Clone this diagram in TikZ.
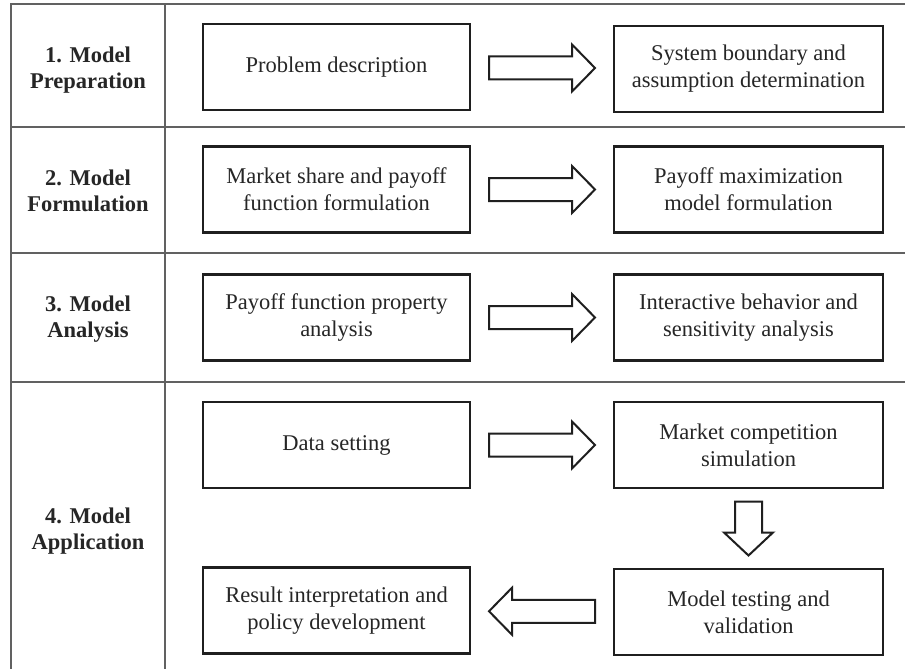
\documentclass[tikz,border=0pt]{standalone}
\usepackage{fontspec}
\setmainfont{Liberation Serif}
\usetikzlibrary{calc}
\begin{document}
\begin{tikzpicture}[x=1pt,y=-1pt,
  grid/.style={line width=1.3pt, draw=black!62},
  box/.style={draw=black!88, line width=2.6pt, minimum width=267pt, minimum height=86pt, align=center, inner sep=0pt, font=\fontsize{22.5}{27}\selectfont, text=black!85},
  rbox/.style={box, minimum width=269pt},
  lbl/.style={align=center, font=\bfseries\fontsize{22.5}{26}\selectfont, text=black!85},
  arrowline/.style={draw=black!88, line width=2pt, fill=white, line join=miter},
  harrow/.pic={\path[arrowline] (-53,-11.5) -- (30,-11.5) -- (30,-23.5) -- (53,0) -- (30,23.5) -- (30,11.5) -- (-53,11.5) -- cycle;},
  varrow/.pic={\path[arrowline] (-27,-13.5) -- (4,-13.5) -- (4,-24.5) -- (27,0) -- (4,24.5) -- (4,13.5) -- (-27,13.5) -- cycle;}
]
\useasboundingbox (0,0) rectangle (905,669);
\fill[white] (0,0) rectangle (905,669);

% table grid
\draw[grid] (11,669) -- (11,4) -- (905,4);
\draw[grid] (165,4) -- (165,669);
\draw[grid] (11,127) -- (905,127);
\draw[grid] (11,253) -- (905,253);
\draw[grid] (11,382) -- (905,382);

% row labels
\node[lbl] (l1) at (88,70) {1. Model\\Preparation};
\node[lbl] (l2) at (88,191) {2. Model\\Formulation};
\node[lbl] (l3) at (88,319) {3. Model\\Analysis};
\node[lbl] (l4) at (88,531) {4. Model\\Application};

% boxes
\node[box]  (a1) at (336.5,67)    {Problem description};
\node[rbox] (b1) at (748.5,69)    {System boundary and\\assumption determination};
\node[box]  (a2) at (336.5,189.5) {Market share and payoff\\function formulation};
\node[rbox] (b2) at (748.5,189.5) {Payoff maximization\\model formulation};
\node[box]  (a3) at (336.5,317.5) {Payoff function property\\analysis};
\node[rbox] (b3) at (748.5,317.5) {Interactive behavior and\\sensitivity analysis};
\node[box]  (a4) at (336.5,445)   {Data setting};
\node[rbox] (b4) at (748.5,445)   {Market competition\\simulation};
\node[rbox] (b5) at (748.5,612)   {Model testing and\\validation};
\node[box]  (a5) at (336.5,610.5) {Result interpretation and\\policy development};

% block arrows
\path ($(a1.east)!0.5!(b1.west)$) pic {harrow};
\path ($(a2.east)!0.5!(b2.west)$) pic {harrow};
\path ($(a3.east)!0.5!(b3.west)$) pic {harrow};
\path ($(a4.east)!0.5!(b4.west)$) pic {harrow};
\path ($(b4.south)!0.5!(b5.north)$) pic[rotate=-90] {varrow};
\path ($(b5.west)!0.5!(a5.east)$) pic[rotate=180] {harrow};
\end{tikzpicture}
\end{document}
